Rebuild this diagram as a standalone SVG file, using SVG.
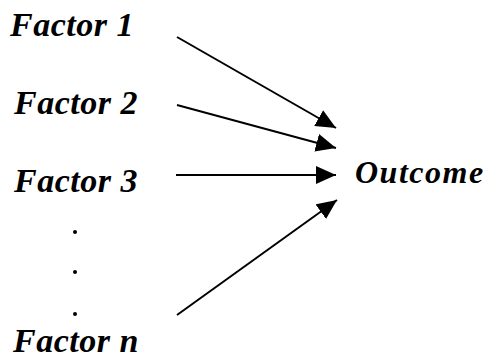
<svg xmlns="http://www.w3.org/2000/svg" width="487" height="360" viewBox="0 0 487 360">
<style>
.lbl{font-family:"Liberation Serif","Times New Roman",serif;font-weight:bold;font-style:italic;fill:#000;}
.f{font-size:34px;letter-spacing:0.5px;}
.o{font-size:32px;letter-spacing:1.5px;}
.c{stroke:#000;stroke-width:2;fill:none;}
</style>
<defs>
<marker id="ah" markerUnits="userSpaceOnUse" markerWidth="22" markerHeight="20" refX="20" refY="9" orient="auto">
<path d="M0,0 L20,9 L0,18 Z" fill="#000"/>
</marker>
</defs>
<rect width="487" height="360" fill="#fff"/>
<g id="factor1"><text class="lbl f" x="10" y="36">Factor 1</text></g>
<g id="factor2"><text class="lbl f" x="14" y="114">Factor 2</text></g>
<g id="factor3"><text class="lbl f" x="14" y="192">Factor 3</text></g>
<g id="dots">
<circle cx="75" cy="232" r="2" fill="#000"/>
<circle cx="75" cy="272" r="2" fill="#000"/>
<circle cx="75" cy="314" r="2" fill="#000"/>
</g>
<g id="factorn"><text class="lbl f" x="13" y="352">Factor n</text></g>
<g id="outcome"><text class="lbl o" x="355" y="183">Outcome</text></g>
<g id="connectors">
<line class="c" x1="177" y1="37" x2="336" y2="128" marker-end="url(#ah)"/>
<line class="c" x1="177" y1="105" x2="336" y2="148" marker-end="url(#ah)"/>
<line class="c" x1="176" y1="175" x2="336" y2="175" marker-end="url(#ah)"/>
<line class="c" x1="177" y1="315" x2="337" y2="200" marker-end="url(#ah)"/>
</g>
</svg>
